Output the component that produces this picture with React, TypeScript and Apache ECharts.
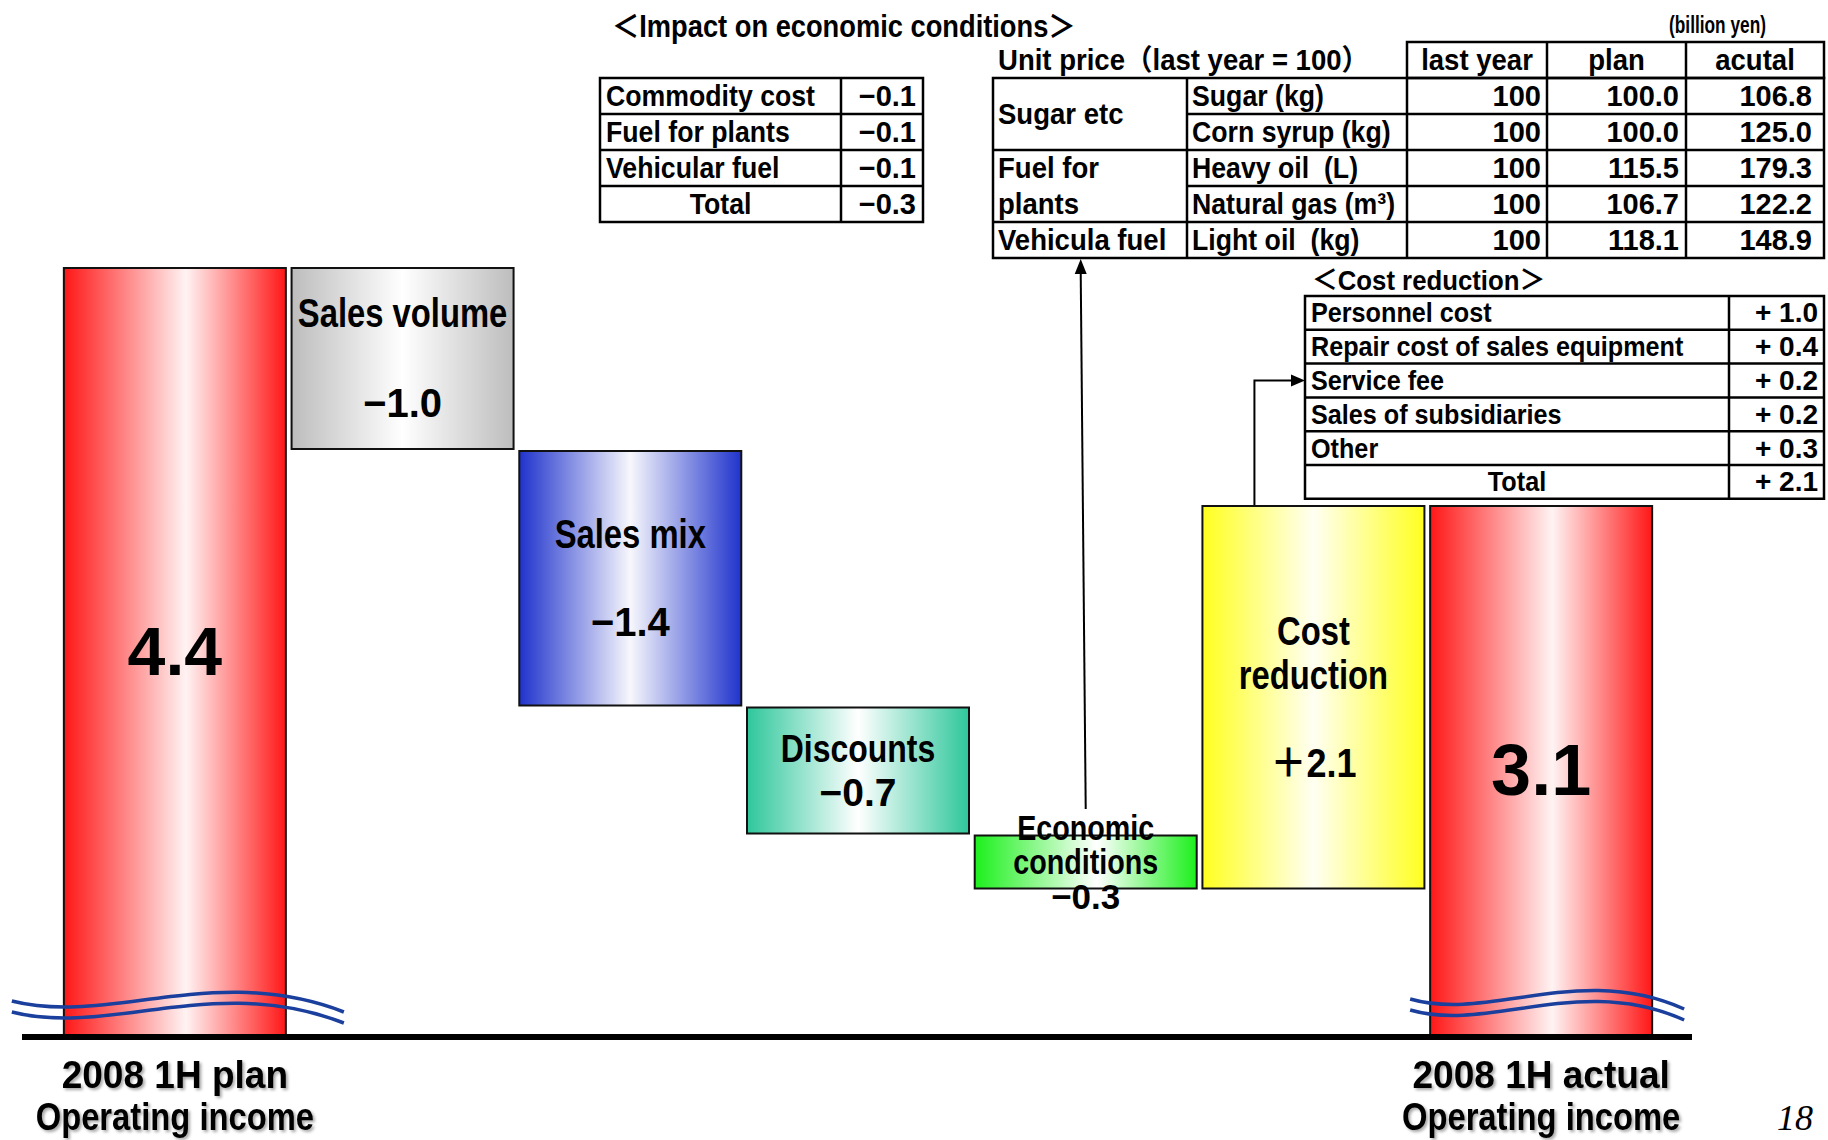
import React, { useEffect, useRef } from 'react';
import * as echarts from 'echarts';

// ---- Operating income bridge (billion yen) ----
const incomeCategories = [
  '2008 1H plan\nOperating income',
  'Sales volume',
  'Sales mix',
  'Discounts',
  'Economic conditions',
  'Cost reduction',
  '2008 1H actual\nOperating income',
];
const planIncome = 4.4;
const actualIncome = 3.1;
const stepLabels = ['Sales volume', 'Sales mix', 'Discounts', 'Economic\nconditions', 'Cost\nreduction'];
const stepDeltas = [-1.0, -1.4, -0.7, -0.3, 2.1];

// ---- Impact on economic conditions ----
const impactItems = ['Commodity cost', 'Fuel for plants', 'Vehicular fuel'];
const impactValues = [-0.1, -0.1, -0.1];
const impactTotal = -0.3;

// ---- Unit price (last year = 100) ----
const priceHeaders = ['last year', 'plan', 'acutal'];
const priceGroups = ['Sugar etc', 'Fuel for\nplants', 'Vehicula fuel'];
const priceGroupRows = [2, 2, 1];
const priceItems = ['Sugar (kg)', 'Corn syrup (kg)', 'Heavy oil  (L)', 'Natural gas (m³)', 'Light oil  (kg)'];
const priceLastYear = [100, 100, 100, 100, 100];
const pricePlan = [100.0, 100.0, 115.5, 106.7, 118.1];
const priceActual = [106.8, 125.0, 179.3, 122.2, 148.9];

// ---- Cost reduction ----
const costItems = ['Personnel cost', 'Repair cost of sales equipment', 'Service fee', 'Sales of subsidiaries', 'Other'];
const costValues = [1.0, 0.4, 0.2, 0.2, 0.3];
const costTotal = 2.1;

const FONT = '"Liberation Sans", Arimo, "Noto Sans CJK JP", sans-serif';
const Y_MIN = 0.2;
const Y_MAX = 5.0;

const round1 = (v: number) => Math.round(v * 10) / 10;
const signed = (v: number, plus: string) => (v < 0 ? '−' : plus) + Math.abs(v).toFixed(1);

// running levels of the bridge
const levels: number[] = [planIncome];
stepDeltas.forEach((d) => levels.push(round1(levels[levels.length - 1] + d)));
const baseData = [0, ...stepDeltas.map((d, i) => Math.min(levels[i], levels[i + 1])), 0];
const barData = [planIncome, ...stepDeltas.map((d) => Math.abs(d)), actualIncome];

// per-bar look: gradient colours and label layout
const barStyles = [
  { edge: '#ff1717', mid: '#fff3f3', midPos: 0.55, fontSize: 68, lineHeight: 70, gap: 0 },
  { edge: '#bdbdbd', mid: '#ffffff', midPos: 0.5, fontSize: 40, lineHeight: 45, gap: 2 },
  { edge: '#1f33cc', mid: '#f7f7fc', midPos: 0.5, fontSize: 40, lineHeight: 44, gap: 2 },
  { edge: '#2ec79b', mid: '#ffffff', midPos: 0.5, fontSize: 39, lineHeight: 44, gap: 1 },
  { edge: '#1cf01c', mid: '#ffffff', midPos: 0.55, fontSize: 35, lineHeight: 34, gap: 1 },
  { edge: '#ffff1f', mid: '#fffff3', midPos: 0.5, fontSize: 40, lineHeight: 44, gap: 2 },
  { edge: '#ff1717', mid: '#fff3f3', midPos: 0.55, fontSize: 72, lineHeight: 74, gap: 0 },
];

function barLabelLines(i: number): { t: string; num: boolean }[] {
  if (i === 0) return [{ t: planIncome.toFixed(1), num: true }];
  if (i === barData.length - 1) return [{ t: actualIncome.toFixed(1), num: true }];
  const s = barStyles[i];
  const out = stepLabels[i - 1].split('\n').map((t) => ({ t, num: false }));
  for (let k = 1; k < s.gap; k++) out.push({ t: '', num: false });
  out.push({ t: signed(stepDeltas[i - 1], '＋'), num: true });
  return out;
}

function buildOption(): any {
  return {
    animation: false,
    backgroundColor: '#ffffff',
    grid: { left: 61, right: 173, top: 157, bottom: 104 },
    xAxis: {
      type: 'category',
      data: incomeCategories,
      axisLine: { show: false },
      axisTick: { show: false },
      axisLabel: { show: false },
    },
    yAxis: { type: 'value', min: Y_MIN, max: Y_MAX, show: false, splitLine: { show: false } },
    series: [
      {
        type: 'bar',
        stack: 'bridge',
        barWidth: 224,
        silent: true,
        itemStyle: { color: 'transparent', borderWidth: 0 },
        label: { show: false },
        data: baseData,
      },
      {
        type: 'bar',
        stack: 'bridge',
        barWidth: 224,
        label: { show: false },
        data: barData.map((v, i) => {
          const s = barStyles[i];
          return {
            value: v,
            itemStyle: {
              color: new echarts.graphic.LinearGradient(0, 0, 1, 0, [
                { offset: 0, color: s.edge },
                { offset: s.midPos, color: s.mid },
                { offset: 1, color: s.edge },
              ]),
              borderColor: '#111',
              borderWidth: 2,
            },
          };
        }),
      },
    ],
  };
}

function text(t: string, x: number, y: number, o: any = {}) {
  const align = o.align || 'left';
  const style: any = {
    text: t,
    x: 0,
    y: 0,
    fill: '#000',
    fontFamily: o.family || FONT,
    fontSize: o.size || 29,
    fontWeight: o.weight || 'bold',
    fontStyle: o.style || 'normal',
    align,
    textAlign: align,
    verticalAlign: 'middle',
    textVerticalAlign: 'middle',
  };
  if (o.lh) style.lineHeight = o.lh;
  if (o.shadow) {
    style.textShadowColor = 'rgba(0,0,0,0.35)';
    style.textShadowBlur = 3;
    style.textShadowOffsetX = 2;
    style.textShadowOffsetY = 2;
  }
  return { type: 'text', z: 60, silent: true, x, y, scaleX: o.sx || 1, style };
}

function seg(x1: number, y1: number, x2: number, y2: number, w = 2.5) {
  return { type: 'line', z: 55, silent: true, shape: { x1, y1, x2, y2 }, style: { stroke: '#000', lineWidth: w } };
}

function frame(x1: number, y1: number, x2: number, y2: number) {
  return {
    type: 'rect',
    z: 55,
    silent: true,
    shape: { x: x1, y: y1, width: x2 - x1, height: y2 - y1 },
    style: { stroke: '#000', lineWidth: 2.5, fill: 'none' },
  };
}

function buildGraphics(chart: any) {
  const toPx = (i: number, v: number) => chart.convertToPixel({ gridIndex: 0 }, [i, v]) as number[];
  const baseY = toPx(0, Y_MIN)[1];
  const els: any[] = [];
  const last = incomeCategories.length - 1;

  // labels inside the bars
  const labelTops: number[] = [];
  barData.forEach((v, i) => {
    const s = barStyles[i];
    const top = toPx(i, baseData[i] + v);
    const bot = toPx(i, Math.max(baseData[i], Y_MIN));
    const cy = (top[1] + bot[1]) / 2;
    const lines = barLabelLines(i);
    const n = lines.length;
    labelTops[i] = cy - (n * s.lineHeight) / 2;
    lines.forEach((ln, k) => {
      if (!ln.t) return;
      const y = cy + (k - (n - 1) / 2) * s.lineHeight;
      els.push(text(ln.t, top[0], y, { size: s.fontSize, align: 'center', sx: ln.num ? (ln.t.startsWith('＋') ? 0.9 : 1) : 0.82 }));
    });
  });

  // category names under the end bars
  [0, last].forEach((i) => {
    const x = toPx(i, Y_MIN)[0];
    const [l1, l2] = incomeCategories[i].split('\n');
    els.push(text(l1, x, baseY + 39, { size: 39, align: 'center', sx: 0.95, shadow: true }));
    els.push(text(l2, x, baseY + 80, { size: 39, align: 'center', sx: 0.84, shadow: true }));
  });

  // headings
  els.push(text('＜Impact on economic conditions＞', 612, 26, { size: 31, sx: 0.88 }));
  els.push(text('(billion yen)', 1766, 24, { size: 24, sx: 0.72, align: 'right' }));

  // impact table
  const tRow0 = 78;
  const tRh = 36;
  const t1 = { x1: 600, xm: 841, x2: 923 };
  els.push(frame(t1.x1, tRow0, t1.x2, tRow0 + tRh * 4));
  els.push(seg(t1.xm, tRow0, t1.xm, tRow0 + tRh * 4));
  for (let r = 1; r < 4; r++) els.push(seg(t1.x1, tRow0 + tRh * r, t1.x2, tRow0 + tRh * r));
  impactItems.forEach((name, r) => {
    const cy = tRow0 + tRh * (r + 0.5);
    els.push(text(name, t1.x1 + 6, cy, { sx: 0.92 }));
    els.push(text(signed(impactValues[r], '+'), t1.x2 - 7, cy, { align: 'right' }));
  });
  {
    const cy = tRow0 + tRh * 3.5;
    els.push(text('Total', (t1.x1 + t1.xm) / 2, cy, { align: 'center', sx: 0.92 }));
    els.push(text(signed(impactTotal, '+'), t1.x2 - 7, cy, { align: 'right' }));
  }

  // unit price table
  const cols = [993, 1187, 1407, 1547, 1686, 1824];
  const nRows = priceItems.length;
  const bottom = tRow0 + tRh * nRows;
  els.push(text('Unit price（last year = 100）', 998, 60, { sx: 0.95 }));
  els.push(frame(cols[2], 42, cols[5], tRow0));
  els.push(seg(cols[3], 42, cols[3], tRow0));
  els.push(seg(cols[4], 42, cols[4], tRow0));
  priceHeaders.forEach((h, c) => {
    els.push(text(h, (cols[c + 2] + cols[c + 3]) / 2, 60, { align: 'center', sx: 0.95 }));
  });
  els.push(frame(cols[0], tRow0, cols[5], bottom));
  for (let c = 1; c < 5; c++) els.push(seg(cols[c], tRow0, cols[c], bottom));
  let r0 = 0;
  priceGroups.forEach((g, gi) => {
    const span = priceGroupRows[gi];
    const cy = tRow0 + tRh * (r0 + span / 2);
    els.push(text(g, cols[0] + 5, cy, { lh: tRh, sx: 0.95 }));
    for (let k = 1; k < span; k++) {
      const y = tRow0 + tRh * (r0 + k);
      els.push(seg(cols[1], y, cols[5], y));
    }
    r0 += span;
    if (r0 < nRows) els.push(seg(cols[0], tRow0 + tRh * r0, cols[5], tRow0 + tRh * r0));
  });
  priceItems.forEach((item, r) => {
    const cy = tRow0 + tRh * (r + 0.5);
    els.push(text(item, cols[1] + 5, cy, { sx: 0.92 }));
    els.push(text(String(priceLastYear[r]), cols[3] - 6, cy, { align: 'right' }));
    els.push(text(pricePlan[r].toFixed(1), cols[4] - 7, cy, { align: 'right' }));
    els.push(text(priceActual[r].toFixed(1), cols[5] - 12, cy, { align: 'right' }));
  });

  // cost reduction table
  const cRow0 = 296;
  const cRh = 33.8;
  const t3 = { x1: 1305, xm: 1729, x2: 1824 };
  const nCost = costItems.length + 1;
  els.push(text('＜Cost reduction＞', 1312, 281, { size: 28, sx: 0.92 }));
  els.push(frame(t3.x1, cRow0, t3.x2, cRow0 + cRh * nCost));
  els.push(seg(t3.xm, cRow0, t3.xm, cRow0 + cRh * nCost));
  for (let r = 1; r < nCost; r++) els.push(seg(t3.x1, cRow0 + cRh * r, t3.x2, cRow0 + cRh * r));
  costItems.forEach((name, r) => {
    const cy = cRow0 + cRh * (r + 0.5);
    els.push(text(name, t3.x1 + 6, cy, { size: 28, sx: 0.9 }));
    els.push(text(signed(costValues[r], '+ '), t3.x2 - 6, cy, { size: 28, align: 'right' }));
  });
  {
    const cy = cRow0 + cRh * (nCost - 0.5);
    els.push(text('Total', (t3.x1 + t3.xm) / 2, cy, { size: 28, align: 'center', sx: 0.9 }));
    els.push(text(signed(costTotal, '+ '), t3.x2 - 6, cy, { size: 28, align: 'right' }));
  }

  // arrow: economic conditions -> unit price table
  {
    const top = toPx(4, levels[3]);
    const startY = labelTops[4] - 2;
    const tipX = top[0] - 5;
    const tipY = bottom + 1;
    els.push(seg(top[0], startY, tipX, tipY + 14, 2));
    els.push({
      type: 'polygon', z: 56, silent: true,
      shape: { points: [[tipX, tipY], [tipX - 6, tipY + 15], [tipX + 6, tipY + 15]] },
      style: { fill: '#000' },
    });
  }

  // arrow: cost reduction -> cost reduction table
  {
    const top = toPx(5, levels[5]);
    const x = top[0] - 59;
    const rowY = cRow0 + cRh * 2.5;
    els.push({
      type: 'polyline', z: 56, silent: true,
      shape: { points: [[x, top[1]], [x, rowY], [t3.x1 - 13, rowY]] },
      style: { stroke: '#000', lineWidth: 2, fill: 'none' },
    });
    els.push({
      type: 'polygon', z: 56, silent: true,
      shape: { points: [[t3.x1, rowY], [t3.x1 - 14, rowY - 6], [t3.x1 - 14, rowY + 6]] },
      style: { fill: '#000' },
    });
  }

  // axis-break waves over the two end bars
  const waves = [
    { i: 0, p: [[-163, -35], [-65, -10], [40, -74], [169, -24]] },
    { i: last, p: [[-131, -37], [-51, -14], [39, -74], [143, -27]] },
  ];
  waves.forEach((w) => {
    const cx = toPx(w.i, Y_MIN)[0];
    [0, 11].forEach((dy) => {
      els.push({
        type: 'bezierCurve', z: 57, silent: true,
        shape: {
          x1: cx + w.p[0][0], y1: baseY + w.p[0][1] + dy,
          cpx1: cx + w.p[1][0], cpy1: baseY + w.p[1][1] + dy,
          cpx2: cx + w.p[2][0], cpy2: baseY + w.p[2][1] + dy,
          x2: cx + w.p[3][0], y2: baseY + w.p[3][1] + dy,
        },
        style: { stroke: '#1a3f9c', lineWidth: 3.5, fill: 'none' },
      });
    });
  });

  // baseline
  els.push({
    type: 'line', z: 58, silent: true,
    shape: { x1: 22, y1: baseY + 1, x2: 1692, y2: baseY + 1 },
    style: { stroke: '#000', lineWidth: 6 },
  });

  // page number
  els.push(text('18', 1795, 1118, { family: '"Liberation Serif", "DejaVu Serif", serif', style: 'italic', weight: 'normal', size: 36, align: 'center' }));

  return els;
}

export default function App() {
  const ref = useRef<HTMLDivElement>(null);
  useEffect(() => {
    const el = ref.current;
    if (!el) return;
    const chart = echarts.init(el, null, { renderer: 'svg' });
    chart.setOption(buildOption());
    chart.setOption({ graphic: buildGraphics(chart) });
    return () => chart.dispose();
  }, []);
  return (
    <div
      ref={ref}
      style={{ position: 'fixed', left: 0, top: 0, width: 1828, height: 1140, background: '#fff' }}
    />
  );
}
